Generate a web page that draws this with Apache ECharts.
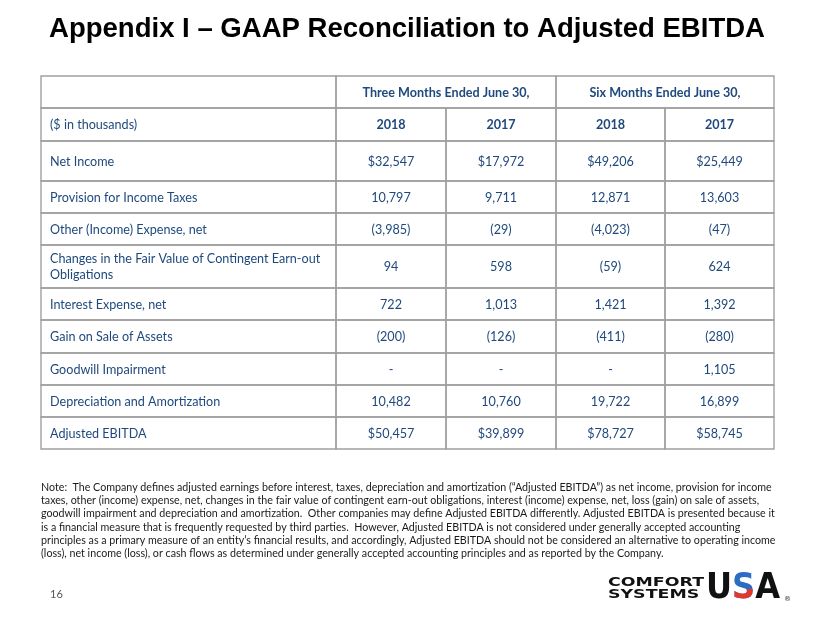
<!DOCTYPE html>
<html><head><meta charset="utf-8">
<script src="https://cdn.jsdelivr.net/npm/echarts@6/dist/echarts.min.js"></script>
<style>html,body{margin:0;padding:0;background:#fff}#c{width:830px;height:623px}</style>
</head><body><div id="c"></div><script>
// ---------- data ----------
const titleText = 'Appendix I \u2013 GAAP Reconciliation to Adjusted EBITDA';
const periodHeaders = ['Three Months Ended June 30,', 'Six Months Ended June 30,'];
const unitLabel = '($ in thousands)';
const yearHeaders = ['2018', '2017', '2018', '2017'];
const rowLabels = [
  'Net Income',
  'Provision for Income Taxes',
  'Other (Income) Expense, net',
  'Changes in the Fair Value of Contingent Earn-out\nObligations',
  'Interest Expense, net',
  'Gain on Sale of Assets',
  'Goodwill Impairment',
  'Depreciation and Amortization',
  'Adjusted EBITDA'
];
const threeMonths2018 = [32547, 10797, -3985, 94, 722, -200, null, 10482, 50457];
const threeMonths2017 = [17972, 9711, -29, 598, 1013, -126, null, 10760, 39899];
const sixMonths2018 = [49206, 12871, -4023, -59, 1421, -411, null, 19722, 78727];
const sixMonths2017 = [25449, 13603, -47, 624, 1392, -280, 1105, 16899, 58745];
const dollarRows = ['Net Income', 'Adjusted EBITDA'];
const noteLines = [
  'Note:  The Company defines adjusted earnings before interest, taxes, depreciation and amortization (\u201cAdjusted EBITDA\u201d) as net income, provision for income',
  'taxes, other (income) expense, net, changes in the fair value of contingent earn-out obligations, interest (income) expense, net, loss (gain) on sale of assets,',
  'goodwill impairment and depreciation and amortization.  Other companies may define Adjusted EBITDA differently. Adjusted EBITDA is presented because it',
  'is a financial measure that is frequently requested by third parties.  However, Adjusted EBITDA is not considered under generally accepted accounting',
  'principles as a primary measure of an entity\u2019s financial results, and accordingly, Adjusted EBITDA should not be considered an alternative to operating income',
  '(loss), net income (loss), or cash flows as determined under generally accepted accounting principles and as reported by the Company.'
];
const pageNumber = '16';
const logoWords = ['COMFORT', 'SYSTEMS'];
const logoMark = ['U', 'S', 'A'];

// ---------- layout (table geometry in axis units) ----------
const L = {
  left: 41, top: 76, width: 733, height: 373,
  colEdges: [0, 295, 405, 515, 624, 733],
  rowEdges: [0, 32, 65, 105, 137, 169, 212, 244, 277, 309, 341, 373]
};
const TXT = '#1F497D';

const ctx = document.createElement('canvas').getContext('2d');
function mw(t, f) { ctx.font = f; return ctx.measureText(t).width; }

const tableFs = Math.round(13 * 148 / mw('Provision for Income Taxes', '13px Lato') * 10) / 10;
const noteFs = Math.round(12 * 733 / mw(noteLines[0], '12px Lato') * 10) / 10;

function fmt(v, label) {
  if (v === null || v === undefined) return '-';
  const s = Math.abs(v).toLocaleString('en-US');
  const d = dollarRows.indexOf(label) >= 0 ? '$' : '';
  return v < 0 ? '(' + d + s + ')' : d + s;
}

const cells = [];
cells.push({c0: 0, c1: 0, r: 0, text: '', bold: false, align: 'left'});
periodHeaders.forEach((h, i) => cells.push({c0: 1 + 2 * i, c1: 2 + 2 * i, r: 0, text: h, bold: true, align: 'center'}));
cells.push({c0: 0, c1: 0, r: 1, text: unitLabel, bold: false, align: 'left'});
yearHeaders.forEach((y, i) => cells.push({c0: 1 + i, c1: 1 + i, r: 1, text: y, bold: true, align: 'center'}));
const cols = [threeMonths2018, threeMonths2017, sixMonths2018, sixMonths2017];
rowLabels.forEach((lab, j) => {
  cells.push({c0: 0, c1: 0, r: 2 + j, text: lab, bold: false, align: 'left'});
  cols.forEach((arr, i) => cells.push({c0: 1 + i, c1: 1 + i, r: 2 + j, text: fmt(arr[j], lab), bold: false, align: 'center'}));
});

const chart = echarts.init(document.getElementById('c'), null, {renderer: 'canvas'});

const titleW = mw(titleText, 'bold 28px "Liberation Sans"');
const logoW = mw('COMFORT', 'bold 13px "DejaVu Sans"');
const usaFont = 'bold 36px "DejaVu Sans"';
const usaW = mw(logoMark.join(''), usaFont);
const usaS = 74 / usaW;
const wU = mw(logoMark[0], usaFont) * usaS;
const wS = mw(logoMark[1], usaFont) * usaS;
const usaX = 706, usaY = 589;

const option = {
  backgroundColor: '#fff',
  animation: false,
  grid: [
    {left: L.left, top: L.top, width: L.width, height: L.height, show: false},
    {left: 690, top: usaY, width: 100, height: 20, show: false}
  ],
  xAxis: [
    {type: 'value', min: 0, max: L.width, show: false},
    {type: 'value', gridIndex: 1, min: 0, max: 1, show: false}
  ],
  yAxis: [
    {type: 'value', min: 0, max: L.height, inverse: true, show: false},
    {type: 'value', gridIndex: 1, min: 0, max: 1, show: false}
  ],
  series: [{
    type: 'custom',
    clip: false,
    data: cells.map((c, i) => [L.colEdges[c.c0], L.rowEdges[c.r], i]),
    encode: {x: 0, y: 1},
    renderItem: function (params, api) {
      const cell = cells[api.value(2)];
      const p0 = api.coord([L.colEdges[cell.c0], L.rowEdges[cell.r]]);
      const p1 = api.coord([L.colEdges[cell.c1 + 1], L.rowEdges[cell.r + 1]]);
      const x = Math.min(p0[0], p1[0]), y = Math.min(p0[1], p1[1]);
      const w = Math.abs(p1[0] - p0[0]), h = Math.abs(p1[1] - p0[1]);
      return {
        type: 'group',
        children: [
          {type: 'rect', shape: {x: x, y: y, width: w, height: h},
           style: {fill: 'none', stroke: '#a0a0a0', lineWidth: 1.4}},
          {type: 'text', x: cell.align === 'left' ? x + 9 : x + w / 2, y: y + h / 2 + 0.5,
           style: {text: cell.text, fill: TXT,
                   font: (cell.bold ? 'bold ' : '') + tableFs + 'px Lato',
                   textAlign: cell.align, textVerticalAlign: 'middle', lineHeight: 16.5}}
        ]
      };
    }
  }, {
    // lower (red) half of the logo "S", clipped by the small second grid
    type: 'custom',
    xAxisIndex: 1, yAxisIndex: 1,
    clip: true,
    silent: true,
    data: [[0, 0]],
    renderItem: function () {
      return {type: 'text', x: usaX + wU, y: usaY, scaleX: usaS,
        style: {text: logoMark[1], font: usaFont, fill: '#e2382b', textAlign: 'left', textVerticalAlign: 'middle'}};
    }
  }],
  graphic: [
    {type: 'text', x: 49, y: 29.5, scaleX: 716 / titleW,
     style: {text: titleText, font: 'bold 28px "Liberation Sans"', fill: '#000', textAlign: 'left', textVerticalAlign: 'middle'}},
  ].concat(noteLines.map((t, i) => ({
    type: 'text', x: 41, y: 487.5 + i * 13.2,
    style: {text: t, font: noteFs + 'px Lato', fill: '#1a1a1a', textAlign: 'left', textVerticalAlign: 'middle'}
  }))).concat([
    {type: 'text', x: 50, y: 594, style: {text: pageNumber, font: '11px Lato', fill: '#555', textAlign: 'left', textVerticalAlign: 'middle'}},
    {type: 'text', x: 608, y: 582.5, scaleX: 96 / logoW,
     style: {text: logoWords[0], font: 'bold 13px "DejaVu Sans"', fill: '#111', textAlign: 'left', textVerticalAlign: 'middle'}},
    {type: 'text', x: 608, y: 594.5, scaleX: 96 / logoW,
     style: {text: logoWords[1], font: 'bold 13px "DejaVu Sans"', fill: '#111', textAlign: 'left', textVerticalAlign: 'middle'}},
    {type: 'text', x: usaX, y: usaY, scaleX: usaS,
     style: {text: logoMark[0], font: usaFont, fill: '#111', textAlign: 'left', textVerticalAlign: 'middle'}},
    {type: 'text', x: usaX + wU, y: usaY, scaleX: usaS,
     style: {text: logoMark[1], font: usaFont, fill: '#2b6cc4', textAlign: 'left', textVerticalAlign: 'middle'}},
    {type: 'text', x: usaX + wU + wS, y: usaY, scaleX: usaS,
     style: {text: logoMark[2], font: usaFont, fill: '#111', textAlign: 'left', textVerticalAlign: 'middle'}},
    {type: 'text', x: 784, y: 599, style: {text: '\u00ae', font: '7px "DejaVu Sans"', fill: '#333', textAlign: 'left', textVerticalAlign: 'middle'}}
  ])
};
chart.setOption(option);
</script></body></html>
